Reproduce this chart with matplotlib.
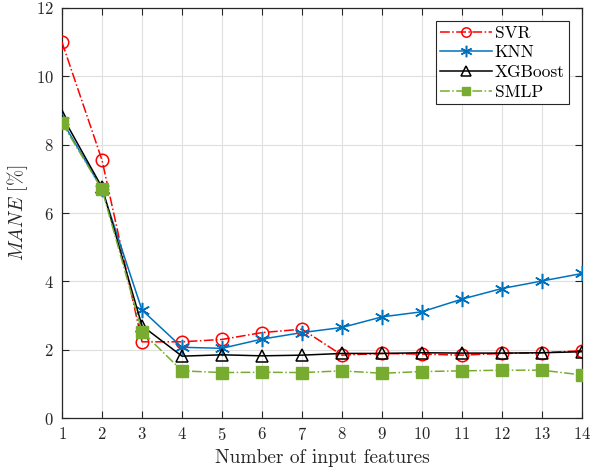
import numpy as np
import matplotlib
matplotlib.use("Agg")
import matplotlib.pyplot as plt

plt.rcParams["font.family"] = "serif"
plt.rcParams["font.serif"] = ["cmr10"]
plt.rcParams["mathtext.fontset"] = "cm"
plt.rcParams["axes.formatter.use_mathtext"] = True

n_features = np.arange(1, 15)
svr = [11.0, 7.55, 2.23, 2.23, 2.30, 2.50, 2.60, 1.84, 1.89, 1.87, 1.84, 1.89, 1.91, 1.97]
knn = [8.70, 6.70, 3.16, 2.07, 2.04, 2.31, 2.50, 2.65, 2.96, 3.11, 3.48, 3.79, 4.01, 4.23]
xgboost = [8.85, 6.75, 2.70, 1.81, 1.85, 1.82, 1.84, 1.89, 1.89, 1.91, 1.90, 1.90, 1.91, 1.94]
smlp = [8.64, 6.69, 2.53, 1.38, 1.33, 1.34, 1.33, 1.38, 1.31, 1.36, 1.38, 1.40, 1.40, 1.26]

fig = plt.figure(figsize=(6.03, 4.70), dpi=100)
ax = fig.add_axes([0.1028, 0.1106, 0.8624, 0.8724])

ax.plot(n_features, svr, color="#FF0000", ls="-.", lw=1.1, marker="o", ms=9,
        mfc="none", mew=1.1, label="SVR", zorder=3)
ax.plot(n_features, knn, color="#0072BD", ls="-", lw=1.1, marker=(6, 2, 0), ms=11,
        mew=1.1, label="KNN", zorder=4)
ax.plot(n_features, xgboost, color="k", ls="-", lw=1.1, marker="^", ms=9,
        mfc="none", mew=1.1, label="XGBoost", zorder=5)
ax.plot(n_features, smlp, color="#77AC30", ls="-.", lw=1.1, marker="s", ms=8,
        mfc="#77AC30", mew=1, label="SMLP", zorder=6)

ax.set_xlim(1, 14)
ax.set_ylim(0, 12)
ax.set_xticks(np.arange(1, 15))
ax.set_yticks(np.arange(0, 13, 2))
ax.grid(True, color="#DFDFDF", lw=0.8)
ax.set_axisbelow(True)
ax.tick_params(direction="in", top=True, right=True, labelsize=12, length=5,
               color="#262626", labelcolor="#262626", pad=6)
for s in ax.spines.values():
    s.set_color("#262626")
    s.set_linewidth(0.9)

ax.set_xlabel("Number of input features", fontsize=14, color="#262626", labelpad=4)
ax.set_ylabel(r"$MANE$ [%]", fontsize=14, color="#262626")
ax.yaxis.set_label_coords(-0.062, 0.5)

leg = ax.legend(loc="upper right", fontsize=12.5, frameon=True, fancybox=False,
                edgecolor="#262626", framealpha=1, handlelength=3.0,
                markerscale=0.75, borderpad=0.25, labelspacing=0.25,
                handletextpad=0.15, borderaxespad=0.75)
leg.get_frame().set_linewidth(0.8)

fig.savefig("out.png", dpi=100)
